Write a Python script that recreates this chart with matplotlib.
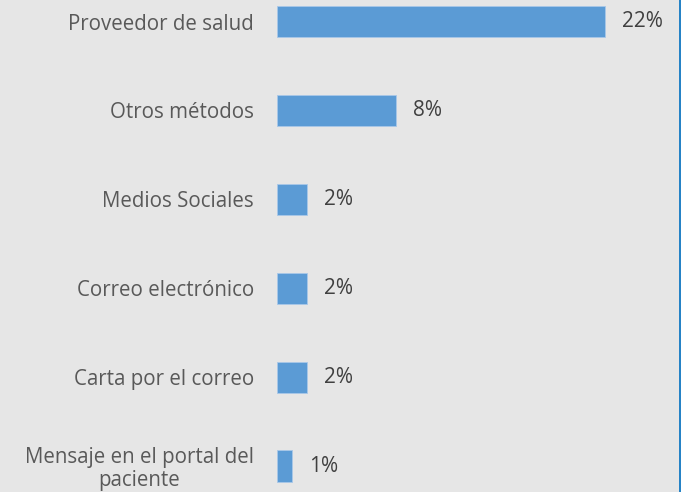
import matplotlib
matplotlib.use("Agg")
import matplotlib.pyplot as plt
from matplotlib.lines import Line2D

categories = ["Proveedor de salud", "Otros métodos", "Medios Sociales",
              "Correo electrónico", "Carta por el correo",
              "Mensaje en el portal del\npaciente"]
values = [22, 8, 2, 2, 2, 1]
value_labels = ["22%", "8%", "2%", "2%", "2%", "1%"]

W, H = 681, 492
fig = plt.figure(figsize=(W/100, H/100), dpi=100)
bg = "#e6e6e6"
fig.patch.set_facecolor(bg)

left_px, right_px = 277, 670
px_per_unit = 14.9
ax = fig.add_axes([left_px/W, 0, (right_px-left_px)/W, 1])
ax.set_facecolor(bg)
ypos = list(range(len(categories)))
ax.barh(ypos, values, height=0.35, color="#5b9bd5", edgecolor="#a9c8e8", linewidth=0.6)
ax.set_xlim(0, (right_px-left_px)/px_per_unit)
ax.set_ylim(5 + 26/88.9, -21.5/88.9)
ax.set_yticks(ypos)
ax.set_yticklabels(categories, fontsize=14.8, color="#595959", family="Open Sans",
                   multialignment="center", linespacing=1.1)
ax.tick_params(axis="y", length=0, pad=16.5)
ax.set_xticks([])
for s in ax.spines.values():
    s.set_visible(False)
for y, v, lab in zip(ypos, values, value_labels):
    ax.annotate(lab, (v, y), xytext=(17, 0), textcoords="offset pixels",
                va="center", ha="left", fontsize=15, color="#404040", family="Open Sans")

fig.add_artist(Line2D([679.5/W, 679.5/W], [0, 1], color="#0070c0", linewidth=1.2,
                      transform=fig.transFigure))
fig.savefig("out.png", dpi=100, facecolor=bg)
